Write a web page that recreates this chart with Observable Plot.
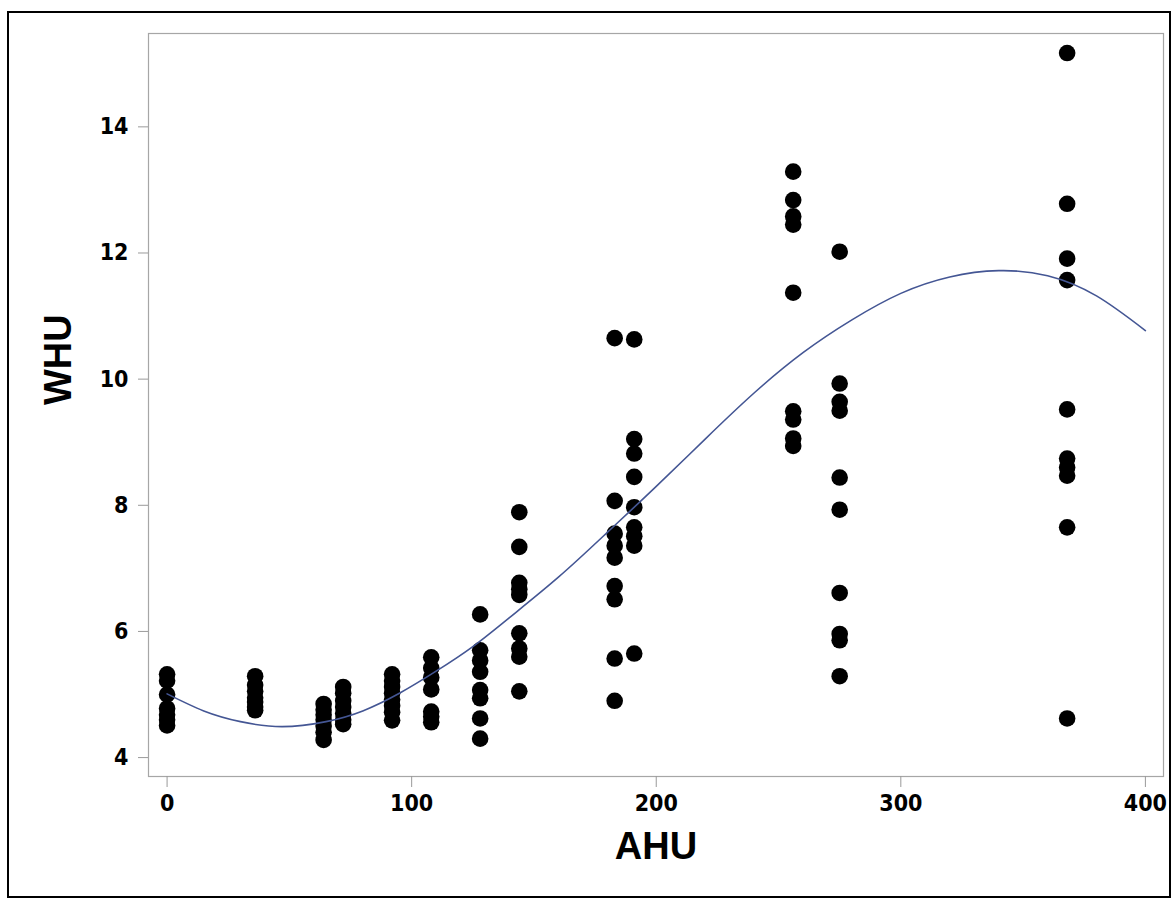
<!DOCTYPE html>
<html><head><meta charset="utf-8">
<script src="https://cdn.jsdelivr.net/npm/d3@7"></script>
<script src="https://cdn.jsdelivr.net/npm/@observablehq/plot@0.6"></script>
<style>
html,body{margin:0;padding:0;background:#fff;}
#wrap{position:relative;width:1174px;height:899px;overflow:hidden;}
#chart{position:absolute;left:0;top:0;}
#border{position:absolute;left:7px;top:11px;width:1164px;height:887px;border:2px solid #000;box-sizing:border-box;pointer-events:none;}
#chart g[aria-label="x-axis tick label"], #chart g[aria-label="y-axis tick label"]{font-stretch:condensed;}
</style></head>
<body><div id="wrap"><div id="chart"></div><div id="border"></div></div>
<script>
// Group AHU values (x) and observed WHU values (y) for each group
const ahuGroups = [0, 36, 64, 72, 92, 108, 128, 144, 183, 191, 256, 275, 368];
const whu_0   = [5.32, 5.22, 5.0, 4.78, 4.68, 4.6, 4.51];
const whu_36  = [5.29, 5.15, 5.05, 4.95, 4.88, 4.8, 4.75];
const whu_64  = [4.85, 4.76, 4.68, 4.6, 4.5, 4.4, 4.28];
const whu_72  = [5.12, 5.02, 4.9, 4.8, 4.7, 4.6, 4.53];
const whu_92  = [5.32, 5.22, 5.12, 5.02, 4.92, 4.82, 4.72, 4.59];
const whu_108 = [5.59, 5.42, 5.27, 5.08, 4.73, 4.65, 4.56];
const whu_128 = [6.27, 5.70, 5.54, 5.36, 5.07, 4.94, 4.62, 4.30];
const whu_144 = [7.89, 7.34, 6.77, 6.67, 6.58, 5.97, 5.73, 5.6, 5.05];
const whu_183 = [10.65, 8.07, 7.55, 7.36, 7.17, 6.72, 6.51, 5.57, 4.9];
const whu_191 = [10.63, 9.05, 8.82, 8.45, 7.97, 7.65, 7.51, 7.36, 5.65];
const whu_256 = [13.29, 12.84, 12.58, 12.45, 11.37, 9.49, 9.36, 9.06, 8.94];
const whu_275 = [12.02, 9.93, 9.64, 9.5, 8.44, 7.93, 6.61, 5.96, 5.86, 5.29];
const whu_368 = [15.17, 12.78, 11.91, 11.57, 9.52, 8.74, 8.6, 8.47, 7.65, 4.62];
const whuByGroup = [whu_0, whu_36, whu_64, whu_72, whu_92, whu_108, whu_128, whu_144, whu_183, whu_191, whu_256, whu_275, whu_368];

// Fitted curve
const fitAHU = [0, 15, 30, 47, 65, 80, 95, 110, 125, 140, 160, 180, 200, 220, 240, 260, 280, 300, 320, 340, 360, 380, 400];
const fitWHU = [5.01, 4.74, 4.57, 4.49, 4.57, 4.74, 5.02, 5.37, 5.76, 6.22, 6.86, 7.57, 8.30, 9.05, 9.78, 10.42, 10.94, 11.36, 11.62, 11.72, 11.64, 11.32, 10.77];

// Axis ticks
const xTicks = [0, 100, 200, 300, 400];
const yTicks = [4, 6, 8, 10, 12, 14];

const points = ahuGroups.flatMap((a, i) => whuByGroup[i].map(w => ({AHU: a, WHU: w})));
const fit = fitAHU.map((a, i) => ({AHU: a, WHU: fitWHU[i]}));

const tickFont = "'Liberation Sans Narrow', 'DejaVu Sans', sans-serif";
const labelFont = "'Liberation Sans', Arial, sans-serif";

const chart = Plot.plot({
  width: 1174,
  height: 899,
  marginLeft: 148,
  marginTop: 33,
  marginRight: 11,
  marginBottom: 123,
  style: {background: "transparent", fontFamily: tickFont},
  x: {domain: [-7.6, 407.4]},
  y: {domain: [3.70, 15.48]},
  marks: [
    Plot.frame({stroke: "#a6a6a6", strokeWidth: 1.2}),
    Plot.axisX({ticks: xTicks, tickSize: 11, tickPadding: 7, stroke: "#9a9a9a", fill: "#000",
      fontSize: 23, fontWeight: "bold", fontFamily: tickFont, label: null}),
    Plot.axisY({ticks: yTicks, tickSize: 10, tickPadding: 10, stroke: "#9a9a9a", fill: "#000",
      fontSize: 23, fontWeight: "bold", fontFamily: tickFont, label: null}),
    Plot.text(["AHU"], {frameAnchor: "bottom", dy: 82, fontSize: 38, fontWeight: "bold", fontFamily: labelFont, fill: "#000"}),
    Plot.text(["WHU"], {frameAnchor: "left", dx: -90, rotate: -90, fontSize: 38, fontWeight: "bold", fontFamily: labelFont, fill: "#000"}),
    Plot.dot(points, {x: "AHU", y: "WHU", r: 8.3, fill: "#000", stroke: "none"}),
    Plot.line(fit, {x: "AHU", y: "WHU", stroke: "#445694", strokeWidth: 1.6, curve: "natural"})
  ]
});
document.getElementById("chart").appendChild(chart);
</script>
</body></html>
